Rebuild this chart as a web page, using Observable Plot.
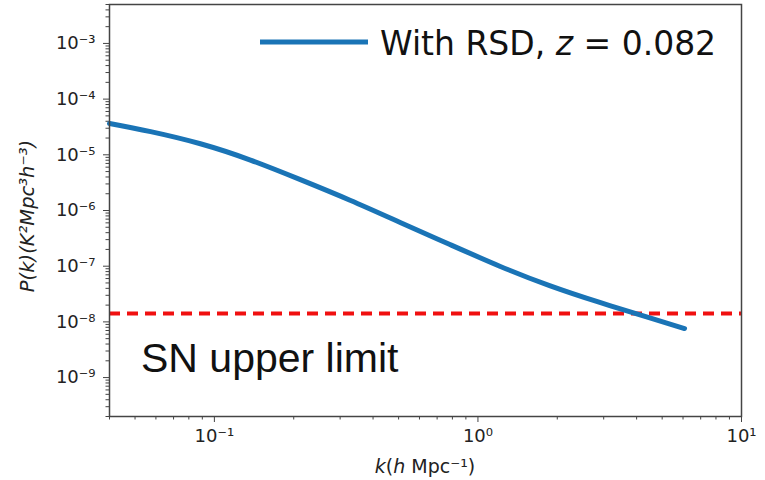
<!DOCTYPE html>
<html><head><meta charset="utf-8">
<script src="https://cdn.jsdelivr.net/npm/d3@7"></script>
<script src="https://cdn.jsdelivr.net/npm/@observablehq/plot@0.6"></script>
<style>body{margin:0;background:#fff}</style>
</head><body><div id="chart"></div>
<script>
// P(k) with RSD, z = 0.082
const kValues = [0.040, 0.0573, 0.0885, 0.137, 0.212, 0.327, 0.507, 0.783, 1.21, 1.87, 2.90, 4.49, 6.08];
const pValues = [3.66e-5, 2.61e-5, 1.58e-5, 8.05e-6, 3.58e-6, 1.53e-6, 6.11e-7, 2.45e-7, 1.00e-7, 4.47e-8, 2.23e-8, 1.18e-8, 7.6e-9];
const snLimit = 1.42e-8;

const xDomain = [0.04, 10];
const yDomain = [2.0e-10, 5.0e-3];

const xMajorTicks = [0.1, 1, 10];
const xTickLabels = ["10\u207B\u00B9", "10\u2070", "10\u00B9"];
const xMinorTicks = [0.04, 0.05, 0.06, 0.07, 0.08, 0.09, 0.2, 0.3, 0.4, 0.5, 0.6, 0.7, 0.8, 0.9, 2, 3, 4, 5, 6, 7, 8, 9];

const yMajorTicks = [1e-9, 1e-8, 1e-7, 1e-6, 1e-5, 1e-4, 1e-3];
const yTickLabels = ["10\u207B\u2079", "10\u207B\u2078", "10\u207B\u2077", "10\u207B\u2076", "10\u207B\u2075", "10\u207B\u2074", "10\u207B\u00B3"];
const yMinorMantissas = [2, 3, 4, 5, 6, 7, 8, 9];
const yMinorDecades = [1e-10, 1e-9, 1e-8, 1e-7, 1e-6, 1e-5, 1e-4, 1e-3];

const seriesLabel = "With RSD, ";
const seriesZ = "z";
const seriesZValue = " = 0.082";
const annotation = "SN upper limit";
const yLabel = "P(k)(K\u00B2Mpc\u00B3h\u207B\u00B3)";

const curve = kValues.map((k, i) => ({k, p: pValues[i]}));
const yMinorTicks = yMinorDecades.flatMap(d => yMinorMantissas.map(m => m * d)).filter(v => v >= yDomain[0] && v <= yDomain[1]);
const xLab = new Map(xMajorTicks.map((t, i) => [t, xTickLabels[i]]));
const yLab = new Map(yMajorTicks.map((t, i) => [t, yTickLabels[i]]));

const blue = "#1a74b6";
const chart = Plot.plot({
  width: 765, height: 480,
  marginLeft: 109, marginRight: 24, marginTop: 4, marginBottom: 64,
  style: {fontFamily: "DejaVu Sans", background: "#fff", color: "#222"},
  x: {type: "log", domain: xDomain},
  y: {type: "log", domain: yDomain},
  marks: [
    Plot.axisX({ticks: xMinorTicks, tickSize: 3.5, tickFormat: () => "", label: null, stroke: "#444"}),
    Plot.axisX({ticks: xMajorTicks, tickSize: 6, tickPadding: 7, tickFormat: d => xLab.get(d), label: null, fontSize: 18, stroke: "#444"}),
    Plot.axisY({ticks: yMinorTicks, tickSize: 3.5, tickFormat: () => "", label: null, stroke: "#444"}),
    Plot.axisY({ticks: yMajorTicks, tickSize: 6, tickPadding: 8, tickFormat: d => yLab.get(d), label: null, fontSize: 18, stroke: "#444"}),
    Plot.ruleY([snLimit], {stroke: "#f01010", strokeWidth: 4, strokeDasharray: "11,7"}),
    Plot.line(curve, {x: "k", y: "p", stroke: blue, strokeWidth: 5, curve: "natural", strokeLinecap: "round"}),
    Plot.frame({stroke: "#444", strokeWidth: 1.5})
  ]
});

const svg = d3.select(chart);
// axis labels
svg.append("text")
  .attr("transform", "translate(34,216) rotate(-90)")
  .attr("text-anchor", "middle")
  .attr("font-family", "DejaVu Sans").attr("font-size", 19.5).attr("font-style", "italic")
  .attr("fill", "#222")
  .text(yLabel);
const xl = svg.append("text")
  .attr("x", 425).attr("y", 473)
  .attr("text-anchor", "middle")
  .attr("font-family", "DejaVu Sans").attr("font-size", 19)
  .attr("fill", "#222");
xl.append("tspan").attr("font-style", "italic").text("k");
xl.append("tspan").text("(");
xl.append("tspan").attr("font-style", "italic").text("h");
xl.append("tspan").text(" Mpc\u207B\u00B9)");

// legend
svg.append("line")
  .attr("x1", 260).attr("x2", 368).attr("y1", 42).attr("y2", 42)
  .attr("stroke", blue).attr("stroke-width", 5);
const lt = svg.append("text")
  .attr("x", 380).attr("y", 55)
  .attr("text-anchor", "start")
  .attr("font-family", "DejaVu Sans").attr("font-size", 33).attr("fill", "#111");
lt.append("tspan").text(seriesLabel);
lt.append("tspan").attr("font-style", "italic").text(seriesZ);
lt.append("tspan").text(seriesZValue);

// annotation
svg.append("text")
  .attr("x", 141).attr("y", 372)
  .attr("text-anchor", "start")
  .attr("font-family", "Liberation Sans").attr("font-size", 41).attr("fill", "#111")
  .text(annotation);

document.getElementById("chart").appendChild(chart);
</script>
</body></html>
